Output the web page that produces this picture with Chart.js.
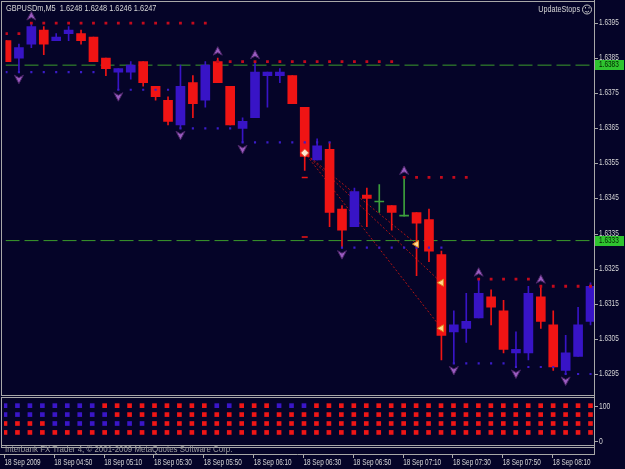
<!DOCTYPE html>
<html>
<head>
<meta charset="utf-8">
<script src="https://cdn.jsdelivr.net/npm/chart.js@4.4.1/dist/chart.umd.min.js"></script>
<style>
  html, body { margin: 0; padding: 0; background: #050428; }
  #wrap { position: relative; width: 625px; height: 469px; background: #050428; overflow: hidden; }
  #wrap canvas { position: absolute; left: 0; }
  #main { top: 0; }
  #ind { top: 397px; }
</style>
</head>
<body>
<div id="wrap">
  <canvas id="main" width="625" height="397" style="width:625px;height:397px"></canvas>
  <canvas id="ind" width="625" height="72" style="width:625px;height:72px"></canvas>
</div>
<script>
// ================= DATA =================
const candleTimes = ['04:30','04:35','04:40','04:45','04:50','04:55','05:00','05:05','05:10','05:15','05:20','05:25',
  '05:30','05:35','05:40','05:45','05:50','05:55','06:00','06:05','06:10','06:15','06:20','06:25',
  '06:30','06:35','06:40','06:45','06:50','06:55','07:00','07:05','07:10','07:15','07:20','07:25',
  '07:30','07:35','07:40','07:45','07:50','07:55','08:00','08:05','08:10','08:15','08:20','08:25'];

const open  = [1.6390,1.6385,1.6389,1.6393,1.6390,1.6392,1.6392,1.6391,1.6385,1.6381,1.6381,1.6384,
               1.6377,1.6373,1.6366,1.6378,1.6373,1.6384,1.6377,1.6365,1.6368,1.6380,1.6380,1.6380,
               1.6371,1.6356,1.6359,1.6342,1.6337,1.6346,1.6344,1.6343,1.6340,1.6341,1.6339,1.6329,
               1.6307,1.6308,1.6311,1.6317,1.6313,1.6301,1.6301,1.6317,1.6309,1.6296,1.6300,1.6310];
const high  = [1.6390,1.6389,1.6395,1.6394,1.6392,1.6394,1.6393,1.6391,1.6385,1.6382,1.6384,1.6384,
               1.6377,1.6374,1.6383,1.6380,1.6384,1.6385,1.6377,1.6368,1.6384,1.6381,1.6382,1.6380,
               1.6371,1.6362,1.6361,1.6343,1.6348,1.6348,1.6349,1.6343,1.6351,1.6341,1.6342,1.6330,
               1.6313,1.6318,1.6322,1.6319,1.6316,1.6307,1.6320,1.6320,1.6313,1.6306,1.6314,1.6321];
const low   = [1.6384,1.6381,1.6388,1.6386,1.6390,1.6390,1.6389,1.6384,1.6380,1.6376,1.6379,1.6377,
               1.6373,1.6366,1.6365,1.6368,1.6371,1.6378,1.6366,1.6361,1.6368,1.6371,1.6378,1.6372,
               1.6353,1.6356,1.6337,1.6331,1.6337,1.6337,1.6341,1.6336,1.6340,1.6323,1.6327,1.6299,
               1.6298,1.6304,1.6311,1.6309,1.6301,1.6297,1.6299,1.6308,1.6296,1.6295,1.6300,1.6309];
const close = [1.6384,1.6388,1.6394,1.6389,1.6391,1.6393,1.6390,1.6384,1.6382,1.6382,1.6383,1.6378,
               1.6374,1.6367,1.6377,1.6372,1.6383,1.6378,1.6366,1.6367,1.6381,1.6381,1.6381,1.6372,
               1.6357,1.6360,1.6341,1.6336,1.6347,1.6345,1.6344,1.6341,1.6340,1.6338,1.6330,1.6306,
               1.6309,1.6310,1.6318,1.6314,1.6302,1.6302,1.6318,1.6310,1.6297,1.6301,1.6309,1.6320];

const priceTicks = [1.6295,1.6305,1.6315,1.6325,1.6335,1.6345,1.6355,1.6365,1.6375,1.6385,1.6395];
const levelPrices = [1.6383, 1.6333];

const timeTickIndex  = [0,4,8,12,16,20,24,28,32,36,40,44];
const timeTickLabels = ['18 Sep 2009','18 Sep 04:50','18 Sep 05:10','18 Sep 05:30','18 Sep 05:50','18 Sep 06:10',
                        '18 Sep 06:30','18 Sep 06:50','18 Sep 07:10','18 Sep 07:30','18 Sep 07:50','18 Sep 08:10'];

// resistance (red dotted) and support (blue dotted) stop levels
const resStart = [0, 2, 17, 32, 38, 43];
const resEnd   = [1, 16, 31, 37, 42, 47];
const resPrice = [1.6392, 1.6395, 1.6384, 1.6351, 1.6322, 1.6320];
const supStart = [0, 9, 14, 19, 27, 36, 41, 45];
const supEnd   = [7, 13, 18, 26, 35, 40, 44, 47];
const supPrice = [1.6381, 1.6376, 1.6365, 1.6361, 1.6331, 1.6298, 1.6297, 1.6295];

// fractal arrows
const upFractals   = [2, 17, 20, 32, 38, 43];
const downFractals = [1, 9, 14, 19, 27, 36, 41, 45];

// dashed trend lines from a pivot
const trendFromIndex = 24;
const trendFromPrice = 1.6358;
const trendToIndex = [33, 35, 35];
const trendToPrice = [1.6332, 1.6321, 1.6308];

// small red stop marks
const stopMarkIndex = [24, 24];
const stopMarkPrice = [1.6351, 1.6334];

// indicator sub-window: 1 = blue (up), -1 = red (down)
const indRowLevel = [100, 75, 50, 25];
const indRow1 = [1,1,1,1,1,1,1,1,-1,-1,-1,-1,-1,-1,-1,-1,-1,1,1,-1,-1,-1,1,1,1,-1,-1,-1,-1,-1,-1,-1,-1,-1,-1,-1,-1,-1,-1,-1,-1,-1,-1,-1,-1,-1,-1,-1];
const indRow2 = [1,1,1,1,1,1,1,1,1,-1,-1,-1,-1,-1,-1,-1,-1,-1,-1,-1,-1,-1,-1,-1,-1,-1,-1,-1,-1,-1,-1,-1,-1,-1,-1,-1,-1,-1,-1,-1,-1,-1,-1,-1,-1,-1,-1,-1];
const indRow3 = [-1,-1,-1,-1,1,1,1,1,1,1,1,1,-1,-1,-1,-1,-1,-1,-1,-1,-1,-1,-1,-1,-1,-1,-1,-1,-1,-1,-1,-1,-1,-1,-1,-1,-1,-1,-1,-1,-1,-1,-1,-1,-1,-1,-1,-1];
const indRow4 = [-1,-1,-1,-1,-1,-1,-1,-1,-1,-1,-1,-1,-1,-1,-1,-1,-1,-1,-1,-1,-1,-1,-1,-1,-1,-1,-1,-1,-1,-1,-1,-1,-1,-1,-1,-1,-1,-1,-1,-1,-1,-1,-1,-1,-1,-1,-1,-1];
const indTicks = [0, 100];

const headerText = 'GBPUSDm,M5  1.6248 1.6248 1.6246 1.6247';
const expertText = 'UpdateStops';
const copyrightText = 'Interbank FX Trader 4, \u00A9 2001-2009 MetaQuotes Software Corp.';

// ================= STYLE =================
const BULL = '#3814c6', BEAR = '#f01414', DOJI = '#3ca03c';
const LEVEL = '#3c9c2c', RES = '#c40a1c', SUP = '#3a1cc8', TREND = '#b01414';
const FRAME = '#a8a8a8', TEXT = '#d6d6d6';
const FONT = '"Liberation Sans", Arial, sans-serif';
const X_MIN = -0.08, X_MAX = 47.28;

const idx = candleTimes.map((_, i) => i);
const candleColors = idx.map(i => close[i] > open[i] ? BULL : (close[i] < open[i] ? BEAR : DOJI));

function segPoints(starts, ends, prices) {
  const pts = [];
  starts.forEach((s, k) => { for (let i = s; i <= ends[k]; i++) pts.push({ x: i, y: prices[k] }); });
  return pts;
}

function drawText(ctx, s, x, y, size, sx, color, align) {
  ctx.save();
  ctx.font = size + 'px ' + FONT;
  ctx.fillStyle = color;
  ctx.textBaseline = 'middle';
  ctx.textAlign = align || 'left';
  ctx.translate(x, y);
  ctx.scale(sx, 1);
  ctx.fillText(s, 0, 0);
  ctx.restore();
}

function hline(ctx, x1, x2, y) { ctx.beginPath(); ctx.moveTo(x1, y); ctx.lineTo(x2, y); ctx.stroke(); }
function vline(ctx, x, y1, y2) { ctx.beginPath(); ctx.moveTo(x, y1); ctx.lineTo(x, y2); ctx.stroke(); }

function fractalArrow(ctx, px, py, s) { // s = 1 up, -1 down
  ctx.beginPath();
  ctx.moveTo(px, py - 4.5 * s);
  ctx.lineTo(px + 4.5, py + 4 * s);
  ctx.lineTo(px, py + 1.5 * s);
  ctx.lineTo(px - 4.5, py + 4 * s);
  ctx.closePath();
  ctx.fillStyle = '#9a5cc0';
  ctx.fill();
  ctx.strokeStyle = '#4a2466';
  ctx.lineWidth = 1;
  ctx.stroke();
}

const yAxisFit = function (s) { s.width = 31; s.paddingTop = 0; s.paddingBottom = 0; };

// ================= MAIN CHART =================
const mainDecor = {
  id: 'mainDecor',
  afterDatasetsDraw(chart) {
    const { ctx, scales: { x, y } } = chart;
    ctx.save();
    upFractals.forEach(i => fractalArrow(ctx, x.getPixelForValue(i), y.getPixelForValue(high[i]) - 7, 1));
    downFractals.forEach(i => fractalArrow(ctx, x.getPixelForValue(i), y.getPixelForValue(low[i]) + 7, -1));
    ctx.restore();
  },
  afterDraw(chart) {
    const { ctx, chartArea: a, scales: { y } } = chart;
    ctx.save();
    ctx.strokeStyle = FRAME; ctx.lineWidth = 1;
    hline(ctx, 1, a.right + 1, 1.5);
    vline(ctx, 1.5, 1, 396);
    hline(ctx, 1, a.right + 1, 395.5);
    vline(ctx, a.right + 0.5, 0, 397);
    // price axis
    priceTicks.forEach(v => {
      const py = Math.round(y.getPixelForValue(v)) + 0.5;
      hline(ctx, a.right + 1, a.right + 4, py);
      drawText(ctx, v.toFixed(4), a.right + 5, py - 1, 8.5, 0.76, TEXT, 'left');
    });
    // current level labels
    levelPrices.forEach(v => {
      const py = Math.round(y.getPixelForValue(v));
      ctx.fillStyle = '#2fc42f';
      ctx.fillRect(a.right + 1, py - 5, 29, 10);
      drawText(ctx, v.toFixed(4), a.right + 5, py, 8.5, 0.76, '#002000', 'left');
    });
    // header texts
    drawText(ctx, headerText, 6, 8.5, 8.5, 0.87, TEXT, 'left');
    drawText(ctx, expertText, 580, 9.5, 8.5, 0.85, TEXT, 'right');
    ctx.strokeStyle = '#c8c8c8'; ctx.lineWidth = 1;
    ctx.beginPath(); ctx.arc(587, 9.5, 4.5, 0, Math.PI * 2); ctx.stroke();
    ctx.beginPath(); ctx.arc(587, 9.5, 2.5, 0.2 * Math.PI, 0.8 * Math.PI); ctx.stroke();
    ctx.fillStyle = '#c8c8c8';
    ctx.fillRect(585, 7, 1, 1.5); ctx.fillRect(588.5, 7, 1, 1.5);
    ctx.restore();
  }
};

const mainDatasets = [];
levelPrices.forEach(v => mainDatasets.push({
  type: 'line', data: [{ x: X_MIN, y: v }, { x: X_MAX, y: v }],
  borderColor: LEVEL, borderWidth: 1, borderDash: [14, 5], pointRadius: 0, order: 20
}));
trendToIndex.forEach((ti, k) => mainDatasets.push({
  type: 'line', data: [{ x: trendFromIndex, y: trendFromPrice }, { x: ti, y: trendToPrice[k] }],
  borderColor: TREND, borderWidth: 1, borderDash: [2, 2], pointRadius: 0, order: 15
}));
mainDatasets.push({
  type: 'bar', label: 'wick', data: idx.map(i => ({ x: i, y: [low[i], high[i]] })),
  backgroundColor: candleColors, barThickness: 1, grouped: false, borderWidth: 0, order: 10
});
mainDatasets.push({
  type: 'bar', label: 'body', data: idx.map(i => ({ x: i, y: [open[i], close[i]] })),
  backgroundColor: candleColors, barThickness: 9, minBarLength: 1, grouped: false, borderWidth: 0, order: 9
});
mainDatasets.push({
  type: 'scatter', data: segPoints(resStart, resEnd, resPrice),
  pointStyle: 'rect', pointRadius: 2, pointBackgroundColor: RES, pointBorderWidth: 0, order: 5
});
mainDatasets.push({
  type: 'scatter', data: segPoints(supStart, supEnd, supPrice),
  pointStyle: 'rect', pointRadius: 1.5, pointBackgroundColor: SUP, pointBorderWidth: 0, order: 5
});
mainDatasets.push({
  type: 'scatter', data: stopMarkIndex.map((i, k) => ({ x: i, y: stopMarkPrice[k] })),
  pointStyle: 'line', pointRadius: 3, pointBorderColor: BEAR, pointBorderWidth: 1.5, order: 4
});
mainDatasets.push({
  type: 'scatter', data: [{ x: trendFromIndex, y: trendFromPrice }],
  pointStyle: 'rectRot', pointRadius: 4, pointBackgroundColor: '#ffe6d0', pointBorderColor: '#e0603a', pointBorderWidth: 1, order: 3
});
mainDatasets.push({
  type: 'scatter', data: trendToIndex.map((i, k) => ({ x: i, y: trendToPrice[k] })),
  pointStyle: 'triangle', rotation: 270, pointRadius: 4, pointBackgroundColor: '#ffd890', pointBorderColor: '#e08a20', pointBorderWidth: 1, order: 3
});

new Chart(document.getElementById('main'), {
  type: 'bar',
  data: { datasets: mainDatasets },
  options: {
    responsive: false, animation: false, events: [], devicePixelRatio: 1,
    layout: { padding: { left: 2, top: 3, right: 0, bottom: 1 } },
    plugins: { legend: { display: false }, tooltip: { enabled: false } },
    scales: {
      x: { type: 'linear', min: X_MIN, max: X_MAX, display: false, offset: false },
      y: {
        type: 'linear', position: 'right', min: 1.6290, max: 1.6400,
        grid: { display: false }, border: { display: false }, ticks: { display: false },
        afterBuildTicks: s => { s.ticks = priceTicks.map(v => ({ value: v })); },
        afterFit: yAxisFit
      }
    }
  },
  plugins: [mainDecor]
});

// ================= INDICATOR SUB-WINDOW =================
const indDecor = {
  id: 'indDecor',
  afterDraw(chart) {
    const { ctx, chartArea: a, scales: { x, y } } = chart;
    ctx.save();
    ctx.strokeStyle = FRAME; ctx.lineWidth = 1;
    hline(ctx, 1, a.right + 1, 0.5);
    hline(ctx, 1, a.right + 1, 48.5);
    hline(ctx, 1, a.right + 1, 50.5);
    vline(ctx, 1.5, 0, 51);
    vline(ctx, a.right + 0.5, 0, 58);
    hline(ctx, 0, a.right + 1, 57.5);
    indTicks.forEach(v => {
      const py = Math.round(y.getPixelForValue(v)) + 0.5;
      hline(ctx, a.right + 1, a.right + 4, py);
      drawText(ctx, String(v), a.right + 5, py, 8.5, 0.8, TEXT, 'left');
    });
    drawText(ctx, copyrightText, 5, 53, 8.5, 0.93, '#a0a0a0', 'left');
    timeTickIndex.forEach((i, k) => {
      const px = x.getPixelForValue(i);
      vline(ctx, Math.round(px) - 0.5, 58, 61);
      drawText(ctx, timeTickLabels[k], px - 0.5, 65.5, 8.5, 0.75, TEXT, 'left');
    });
    ctx.restore();
  }
};

const indRows = [indRow1, indRow2, indRow3, indRow4];
new Chart(document.getElementById('ind'), {
  type: 'scatter',
  data: {
    datasets: indRows.map((row, k) => ({
      data: idx.map(i => ({ x: i, y: indRowLevel[k] })),
      pointStyle: 'rect', pointRadius: 3.3,
      pointBackgroundColor: row.map(v => v > 0 ? '#3a16c8' : '#f01616'),
      pointBorderWidth: 0
    }))
  },
  options: {
    responsive: false, animation: false, events: [], devicePixelRatio: 1,
    layout: { padding: { left: 2, top: 1, right: 0, bottom: 23 } },
    plugins: { legend: { display: false }, tooltip: { enabled: false } },
    scales: {
      x: { type: 'linear', min: X_MIN, max: X_MAX, display: false, offset: false },
      y: {
        type: 'linear', position: 'right', min: -13, max: 113,
        grid: { display: false }, border: { display: false }, ticks: { display: false },
        afterFit: yAxisFit
      }
    }
  },
  plugins: [indDecor]
});
</script>
</body>
</html>
